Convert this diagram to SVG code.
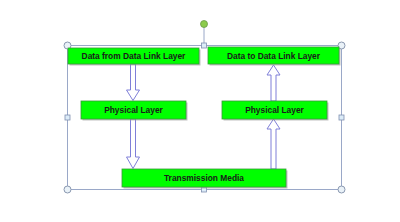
<svg xmlns="http://www.w3.org/2000/svg" width="400" height="222" viewBox="0 0 400 222">
<defs>
<style>
.box{fill:#00ff00;stroke:#3a9a3a;stroke-width:0.8}
.sh{fill:#9a9a9a;opacity:0.6}
.lbl{font-family:"Liberation Sans",Arial,sans-serif;font-weight:bold;font-size:8.4px;fill:#1a1a1a;text-anchor:middle}
.arr{fill:#ffffff;stroke:#7f7fd8;stroke-width:1}
.sel{fill:none;stroke:#9aa8c8;stroke-width:1}
.hc{fill:#eaf2f8;stroke:#8a98b0;stroke-width:1}
.hs{fill:#dcecf8;stroke:#7f90b0;stroke-width:0.8}
</style>
</defs>
<g id="selection">
<rect class="sel" x="67.5" y="45.5" width="274" height="144"/>
<line class="sel" x1="204" y1="25" x2="204" y2="45"/>
<circle cx="204" cy="24" r="3.5" fill="#8ccc4c" stroke="#6a9a4a" stroke-width="0.8"/>
<circle class="hc" cx="67.5" cy="45.5" r="3.5"/>
<circle class="hc" cx="341.5" cy="45.5" r="3.5"/>
<circle class="hc" cx="67.5" cy="189.5" r="3.5"/>
<circle class="hc" cx="341.5" cy="189.5" r="3.5"/>
<rect class="hs" x="201.5" y="43" width="5" height="5"/>
<rect class="hs" x="201.5" y="187" width="5" height="5"/>
<rect class="hs" x="65" y="115" width="5" height="5"/>
<rect class="hs" x="339" y="115" width="5" height="5"/>
</g>
<g id="connectors">
<path class="arr" d="M130.5 64 L135.5 64 L135.5 90 L139.5 90 L133 100.5 L126.5 90 L130.5 90 Z"/>
<path class="arr" d="M130.5 119 L135.5 119 L135.5 157 L139.5 157 L133 168.5 L126.5 157 L130.5 157 Z"/>
<path class="arr" d="M271 169 L276 169 L276 129 L280 129 L273.5 119 L267 129 L271 129 Z"/>
<path class="arr" d="M271 101 L276 101 L276 75 L280 75 L273.5 65 L267 75 L271 75 Z"/>
</g>
<g id="n1">
<rect class="sh" x="69.5" y="49.5" width="131" height="16"/>
<rect class="box" x="68" y="48" width="131" height="16"/>
<text class="lbl" x="133.5" y="59">Data from Data Link Layer</text>
</g>
<g id="n2">
<rect class="sh" x="209.5" y="48.5" width="131" height="17"/>
<rect class="box" x="208" y="47" width="131" height="17"/>
<text class="lbl" x="273.5" y="58.5">Data to Data Link Layer</text>
</g>
<g id="n3">
<rect class="sh" x="82.5" y="102.5" width="105" height="18"/>
<rect class="box" x="81" y="101" width="105" height="18"/>
<text class="lbl" x="133.5" y="113">Physical Layer</text>
</g>
<g id="n4">
<rect class="sh" x="223.5" y="102.5" width="105" height="18"/>
<rect class="box" x="222" y="101" width="105" height="18"/>
<text class="lbl" x="274.5" y="113">Physical Layer</text>
</g>
<g id="n5">
<rect class="sh" x="123.5" y="170.5" width="164" height="18"/>
<rect class="box" x="122" y="169" width="164" height="18"/>
<text class="lbl" x="204" y="181">Transmission Media</text>
</g>
</svg>
